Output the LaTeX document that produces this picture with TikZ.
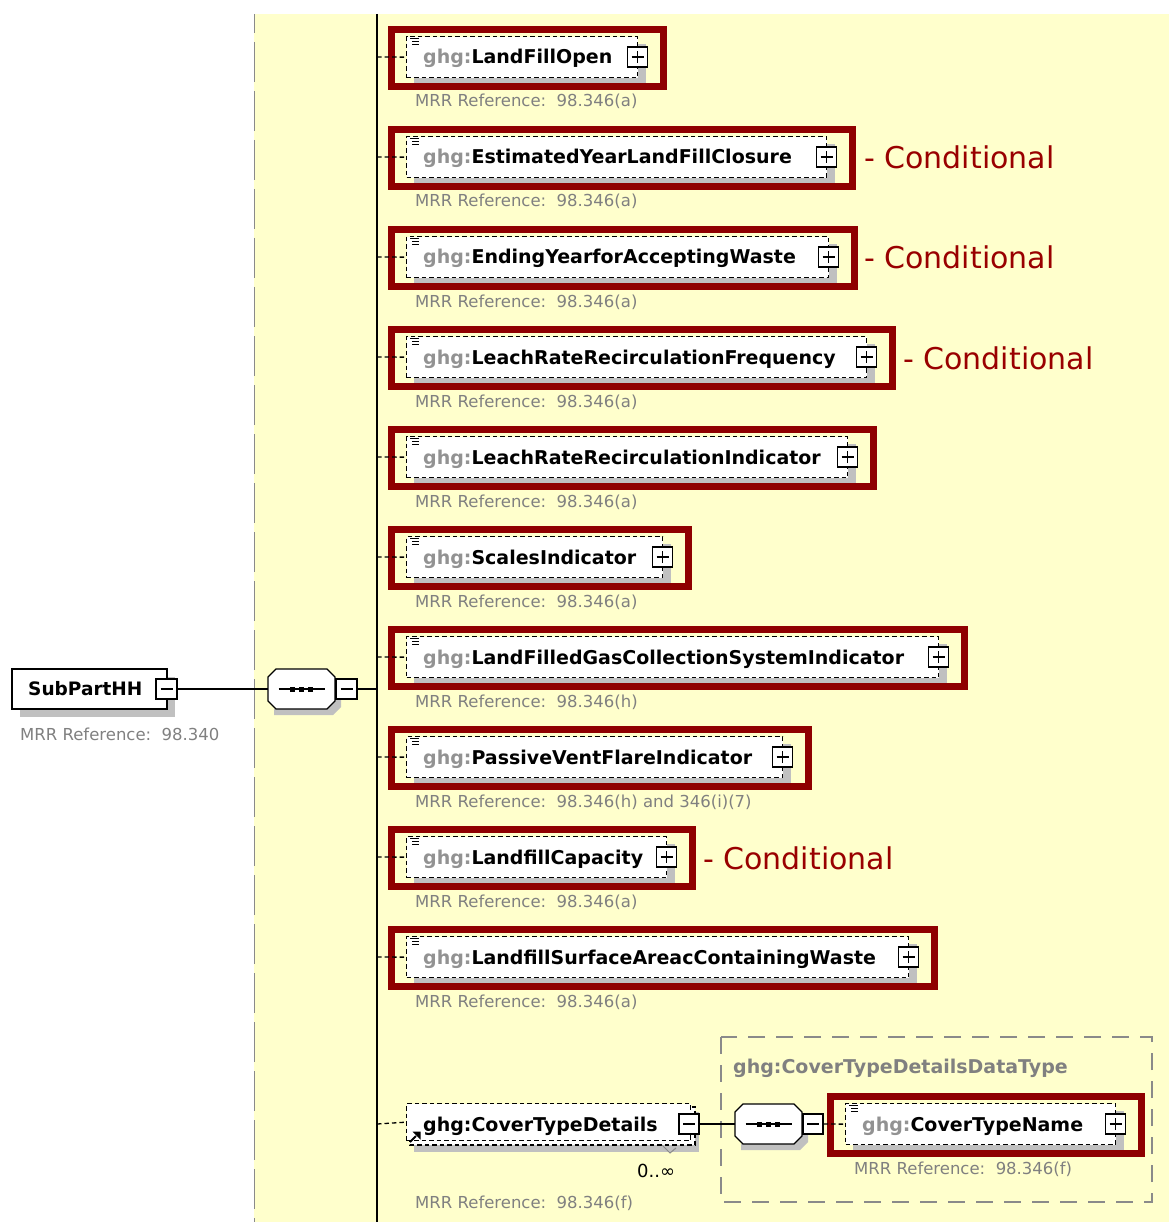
\documentclass[tikz,border=0pt]{standalone}
\usepackage{fontspec}
\setmainfont{DejaVu Sans}
\definecolor{bgyellow}{HTML}{FFFFCC}
\definecolor{framered}{HTML}{8F0000}
\definecolor{condred}{HTML}{990000}
\definecolor{txtgray}{HTML}{808080}
\definecolor{pfxgray}{HTML}{929292}
\definecolor{shadowgray}{HTML}{C0C0C0}
\definecolor{linegray}{HTML}{8A8A8A}
\newcommand{\elfont}{\fontsize{19}{22}\selectfont\bfseries}
\newcommand{\mrrfont}{\fontsize{16.5}{19}\selectfont}
\newcommand{\condfont}{\fontsize{30}{34}\selectfont}
\tikzset{
  ebox/.style={draw, dash pattern=on 4.5pt off 3pt, line width=1.3pt, fill=white, inner sep=0pt, anchor=north west},
  redframe/.style={draw=framered, line width=7pt},
  pmbox/.style={draw, line width=1.3pt, fill=white, minimum width=20pt, minimum height=20pt, inner sep=0pt},
  mrrtext/.style={text=txtgray, font=\mrrfont, anchor=base west, inner sep=0pt},
  eltext/.style={font=\elfont, anchor=base west, inner sep=0pt},
  condtext/.style={text=condred, font=\condfont, anchor=base west, inner sep=0pt},
  conn/.style={line width=1.3pt},
  dconn/.style={line width=1.3pt, dash pattern=on 4.5pt off 3pt},
  plainbox/.style={draw, line width=1.3pt, fill=white, inner sep=0pt},
}
\newcommand{\plussign}[1]{\draw[line width=1.3pt] ([xshift=-6pt]#1.center) -- ([xshift=6pt]#1.center) ([yshift=-6pt]#1.center) -- ([yshift=6pt]#1.center);}
\newcommand{\minussign}[1]{\draw[line width=1.3pt] ([xshift=-6pt]#1.center) -- ([xshift=6pt]#1.center);}
% #1 id, #2 x offset, #3 centre y, #4 plus-box x (absolute), #5 name, #6 MRR ref
\newcommand{\elrow}[6]{%
  \pgfmathsetmacro\ew{#4-406-#2}%
  \begin{scope}[xshift=#2]
  \fill[shadowgray] (414,#3-13) rectangle (#4-#2+9,#3+27);
  \node[ebox, minimum width=\ew pt, minimum height=41pt] (#1) at (406,#3-21) {};
  \draw[line width=1pt] (410,#3-18.5) -- (419,#3-18.5) (412,#3-15.5) -- (419,#3-15.5) (412,#3-12.5) -- (419,#3-12.5);
  \node[eltext] (#1t) at (423,#3+7) {\textcolor{pfxgray}{ghg:}#5};
  \node[pmbox] (#1p) at (#4-#2+0.5,#3) {};
  \plussign{#1p}
  \draw[redframe] (391.5,#3-27.5) rectangle (#4-#2+26,#3+29.5);
  \node[mrrtext] (#1m) at (415,#3+50) {MRR Reference:\ \ #6};
  \end{scope}
}
\newcommand{\seqnode}[3]{%
  \fill[shadowgray] (#2-27.5,#3+26) -- (#2+31.5,#3+26) -- (#2+39.5,#3+18) -- (#2+39.5,#3-6) -- (#2+33.5,#3-6) -- (#2+33.5,#3+12) -- (#2+25.5,#3+20) -- (#2-27.5,#3+20) -- cycle;
  \node[inner sep=0pt, minimum width=67pt, minimum height=40pt] (#1) at (#2,#3) {};
  \draw[line width=1.3pt, fill=white] (#2-33.5,#3-12) -- (#2-25.5,#3-20) -- (#2+25.5,#3-20) -- (#2+33.5,#3-12) -- (#2+33.5,#3+12) -- (#2+25.5,#3+20) -- (#2-25.5,#3+20) -- (#2-33.5,#3+12) -- cycle;
  \draw[line width=1.3pt] (#2-23,#3) -- (#2+23,#3);
  \fill (#2-11.5,#3-2.5) rectangle (#2-6.5,#3+2.5);
  \fill (#2-2.5,#3-2.5) rectangle (#2+2.5,#3+2.5);
  \fill (#2+6.5,#3-2.5) rectangle (#2+11.5,#3+2.5);
}
\begin{document}
\begin{tikzpicture}[x=1pt,y=-1pt]
\useasboundingbox (0,0) rectangle (1169,1222);
\fill[bgyellow] (254,14) rectangle (1169,1222);
\draw[linegray, line width=1.5pt, dash pattern=on 40pt off 9pt, dash phase=21pt] (254.5,14) -- (254.5,1222);
\coordinate (bustop) at (377,14);
\coordinate (busbot) at (377,1222);
\draw[conn] (bustop) -- (busbot);

% root element
\fill[shadowgray] (20,677) rectangle (175,717);
\node[plainbox, minimum width=155pt, minimum height=40pt] (sub) at (89.5,689) {};
\node[font=\fontsize{18.5}{22}\selectfont\bfseries, anchor=base west, inner sep=0pt] (subt) at (28,695.5) {SubPartHH};
\node[pmbox, minimum width=21pt] (subm) at (166.5,689) {};
\minussign{subm}
\node[mrrtext] (subref) at (20,740) {MRR Reference:\ \ 98.340};

% sequence
\seqnode{seq}{301.5}{689}
\node[pmbox, minimum width=21pt] (seqm) at (346.5,689) {};
\minussign{seqm}
\coordinate (busmid) at (377,689);
\draw[conn] (subm.east) -- (seq.west);
\draw[conn] (seqm.east) -- (busmid);

% child elements
\elrow{e0}{0}{57}{637}{LandFillOpen}{98.346(a)}
\elrow{e1}{0}{157}{826}{EstimatedYearLandFillClosure}{98.346(a)}
\elrow{e2}{0}{257}{828}{EndingYearforAcceptingWaste}{98.346(a)}
\elrow{e3}{0}{357}{866}{LeachRateRecirculationFrequency}{98.346(a)}
\elrow{e4}{0}{457}{847}{LeachRateRecirculationIndicator}{98.346(a)}
\elrow{e5}{0}{557}{662}{ScalesIndicator}{98.346(a)}
\elrow{e6}{0}{657}{938}{LandFilledGasCollectionSystemIndicator}{98.346(h)}
\elrow{e7}{0}{757}{782}{PassiveVentFlareIndicator}{98.346(h) and 346(i)(7)}
\elrow{e8}{0}{857}{666}{LandfillCapacity}{98.346(a)}
\elrow{e9}{0}{957}{908}{LandfillSurfaceAreacContainingWaste}{98.346(a)}

\foreach \i/\yy in {0/57,1/157,2/257,3/357,4/457,5/557,6/657,7/757,8/857,9/957}{
  \coordinate (b\i) at (377,\yy);
  \draw[dconn] (b\i) -- (e\i.west);
}

% conditional labels
\node[condtext] (c1) at (864,169) {- Conditional};
\node[condtext] (c2) at (864,269) {- Conditional};
\node[condtext] (c3) at (903,369) {- Conditional};
\node[condtext] (c8) at (703,869) {- Conditional};

% CoverTypeDetails
\fill[shadowgray] (414,1112) rectangle (699,1152);
\draw[dash pattern=on 4.5pt off 3pt, line width=1.3pt, fill=white] (410,1107) rectangle (695,1145);
\node[ebox, minimum width=284pt, minimum height=37pt] (ctd) at (406,1103) {};
\node[eltext] (ctdt) at (423,1131) {ghg:CoverTypeDetails};
\draw[line width=2pt] (410,1142) -- (416,1136);
\fill (420.5,1131.5) -- (420.5,1139.5) -- (412.5,1131.5) -- cycle;
\node[pmbox] (ctdm) at (689,1124) {};
\minussign{ctdm}
\draw[line width=1pt, linegray] (662,1145) -- (670,1153) -- (676,1148);
\node[font=\fontsize{18}{21}\selectfont, anchor=base west, inner sep=0pt] (ctdocc) at (637,1177) {0..∞};
\node[mrrtext] (ctdref) at (415,1208) {MRR Reference:\ \ 98.346(f)};
\coordinate (b10) at (377,1124);
\draw[dconn] (b10) -- (ctd.west);

% complex type box
\draw[linegray, line width=1.5pt, dash pattern=on 17pt off 11pt] (721,1037) rectangle (1152,1202);
\node[font=\elfont, text=txtgray, anchor=base west, inner sep=0pt] (ctdtype) at (733,1073) {ghg:CoverTypeDetailsDataType};

\seqnode{seqb}{768.5}{1124}
\node[pmbox] (seqbm) at (813,1124) {};
\minussign{seqbm}
\draw[conn] (ctdm.east) -- (seqb.west);

\elrow{ctn}{439}{1124}{1115}{CoverTypeName}{98.346(f)}
\draw[dconn] (seqbm.east) -- (ctn.west);
\end{tikzpicture}
\end{document}
